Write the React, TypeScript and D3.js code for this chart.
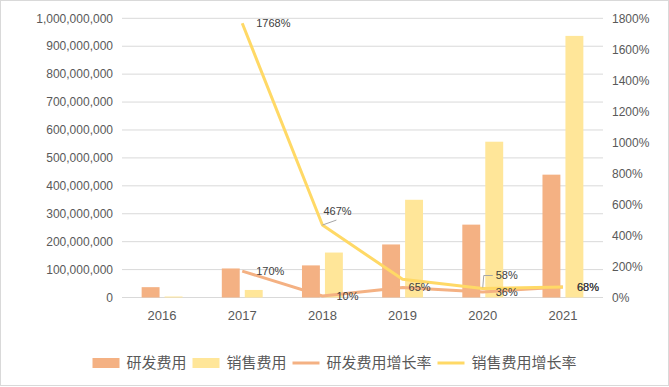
import React from "react";
import * as d3 from "d3";

// values
const years = ["2016", "2017", "2018", "2019", "2020", "2021"];
const rdExpense = [37e6, 104e6, 115e6, 190e6, 261e6, 440e6];
const salesExpense = [3.5e6, 27e6, 161e6, 350e6, 558e6, 937e6];
const rdGrowth = [null, 1.7, 0.1, 0.65, 0.36, 0.68];
const salesGrowth = [null, 17.68, 4.67, 1.17, 0.58, 0.68];
const leftTicks = d3.range(0, 1e9 + 1, 1e8);
const rightTicks = d3.range(0, 18.01, 2);
const legendNames = ["研发费用", "销售费用", "研发费用增长率", "销售费用增长率"];

// label placement (dx, dy from the point; null = no label)
const rdLabelPos = [null, [14, 0], [14, 0], [6, 0], [13, 0], [14, 0]];
const salesLabelPos = [null, [14, 0], [1, -14], null, [13, -13], [14, 0]];

const W = 669;
const H = 387;
const plot = { left: 122, right: 603, top: 18.3, bottom: 297.5 };
const C_RD = "#F4B183";
const C_SALES = "#FFE699";
const C_SALES_LINE = "#FFD966";
const GRID = "#D9D9D9";
const TXT = "#595959";
const LBL = "#404040";
const FONT = "'Liberation Sans', Arial, 'Noto Sans CJK SC', sans-serif";
const CJK = "'Noto Sans CJK SC', 'Liberation Sans', sans-serif";

const fmt = d3.format(",");

export default function App() {
  const x = d3
    .scaleBand<string>()
    .domain(years)
    .range([plot.left, plot.right])
    .paddingInner(0.49)
    .paddingOuter(0.245);
  const xs = d3.scaleBand<string>().domain(["rd", "sales"]).range([0, x.bandwidth()]).paddingInner(0.22);
  const y = d3.scaleLinear().domain([0, 1e9]).range([plot.bottom, plot.top]);
  const yr = d3.scaleLinear().domain([0, 18]).range([plot.bottom, plot.top]);
  const cx = (d: string) => (x(d) ?? 0) + x.bandwidth() / 2;

  const line = d3
    .line<[string, number | null]>()
    .defined((d) => d[1] != null)
    .x((d) => cx(d[0]))
    .y((d) => yr(d[1] as number));

  const rdPts = years.map((yr_, i) => [yr_, rdGrowth[i]] as [string, number | null]);
  const salesPts = years.map((yr_, i) => [yr_, salesGrowth[i]] as [string, number | null]);

  const labels: { x: number; y: number; t: string; leader?: string }[] = [];
  const addLabels = (vals: (number | null)[], pos: (number[] | null)[], leaderKind: boolean) => {
    vals.forEach((v, i) => {
      const p = pos[i];
      if (v == null || !p) return;
      const px = cx(years[i]);
      const py = yr(v);
      const lx = px + p[0];
      const ly = py + p[1];
      let leader: string | undefined;
      if (leaderKind && p[1] < 0) {
        if (p[0] < 5) leader = `M${px},${py}L${px + 14},${py - 5}`;
        else leader = `M${px},${py - 1}L${px + 1},${ly}L${lx - 3},${ly}`;
      }
      labels.push({ x: lx, y: ly, t: `${Math.round(v * 100)}%`, leader });
    });
  };
  addLabels(rdGrowth, rdLabelPos, false);
  addLabels(salesGrowth, salesLabelPos, true);

  // legend layout
  const fs = 15;
  const legendItems = legendNames.map((n, i) => ({ n, kind: i < 2 ? "rect" : "line", color: [C_RD, C_SALES, C_RD, C_SALES_LINE][i] }));
  const totalW = legendItems.reduce((s, it) => s + 27 + 7 + it.n.length * fs + 6, -6);
  let lxCur = (W - totalW) / 2;
  const legendY = 363;

  return (
    <div style={{ position: "absolute", left: 0, top: 0 }}>
      <svg width={W} height={H} style={{ display: "block", background: "#fff" }}>
        <rect x={0.5} y={0.5} width={W - 1} height={385} fill="#fff" stroke={GRID} />
        {leftTicks.map((t) => (
          <line key={t} x1={plot.left} x2={plot.right} y1={y(t)} y2={y(t)} stroke={GRID} strokeWidth={1} />
        ))}
        {leftTicks.map((t) => (
          <text key={"l" + t} x={113} y={y(t)} dy="0.35em" textAnchor="end" fontSize={12} fontFamily={FONT} fill={TXT}>
            {fmt(t)}
          </text>
        ))}
        {rightTicks.map((t) => (
          <text key={"r" + t} x={612} y={yr(t)} dy="0.35em" fontSize={12} fontFamily={FONT} fill={TXT}>
            {`${Math.round(t * 100)}%`}
          </text>
        ))}
        {years.map((d, i) => (
          <g key={d}>
            <rect x={(x(d) ?? 0) + (xs("rd") ?? 0)} width={xs.bandwidth()} y={y(rdExpense[i])} height={y(0) - y(rdExpense[i])} fill={C_RD} />
            <rect x={(x(d) ?? 0) + (xs("sales") ?? 0)} width={xs.bandwidth()} y={y(salesExpense[i])} height={y(0) - y(salesExpense[i])} fill={C_SALES} />
            <text x={cx(d)} y={315} dy="0.35em" textAnchor="middle" fontSize={13} fontFamily={FONT} fill={TXT}>
              {d}
            </text>
          </g>
        ))}
        <path d={line(rdPts) ?? ""} fill="none" stroke={C_RD} strokeWidth={3} strokeLinejoin="round" />
        <path d={line(salesPts) ?? ""} fill="none" stroke={C_SALES_LINE} strokeWidth={3} strokeLinejoin="round" />
        {labels.map((l, i) => (
          <g key={"lb" + i}>
            {l.leader && <path d={l.leader} fill="none" stroke="#A6A6A6" strokeWidth={1} />}
            <text x={l.x} y={l.y} dy="0.35em" fontSize={11} fontFamily={FONT} fill={LBL}>
              {l.t}
            </text>
          </g>
        ))}
        {legendItems.map((it) => {
          const x0 = lxCur;
          lxCur += 27 + 7 + it.n.length * fs + 6;
          return (
            <g key={it.n}>
              {it.kind === "rect" ? (
                <rect x={x0} y={legendY - 5} width={27} height={10} fill={it.color} />
              ) : (
                <line x1={x0} x2={x0 + 27} y1={legendY} y2={legendY} stroke={it.color} strokeWidth={3} />
              )}
              <text x={x0 + 34} y={legendY} dy="0.35em" fontSize={fs} fontFamily={CJK} fill={TXT}>
                {it.n}
              </text>
            </g>
          );
        })}
      </svg>
    </div>
  );
}
